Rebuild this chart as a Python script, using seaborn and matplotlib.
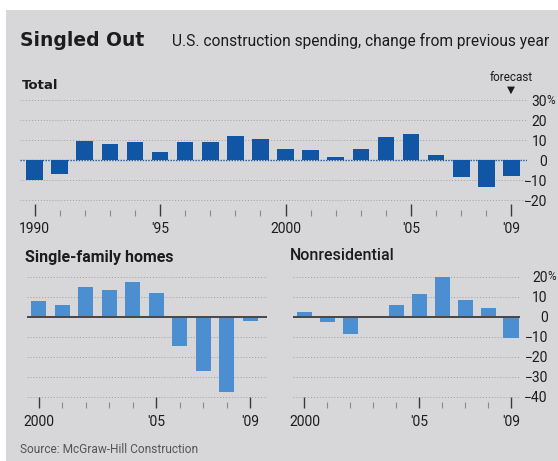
import matplotlib
matplotlib.use("Agg")
import matplotlib.pyplot as plt
from matplotlib.patches import Rectangle
from matplotlib.transforms import blended_transform_factory
import pandas as pd
import seaborn as sns

# ---- data: percent change in U.S. construction spending from previous year ----
years_total = list(range(1990, 2010))
total_change = [-10, -7, 9.5, 8.2, 9.2, 4.0, 9.2, 9.2, 12.2, 10.5,
                5.7, 5.0, 1.3, 5.3, 11.3, 12.8, 2.7, -8.7, -13.7, -8.0]

years_split = list(range(2000, 2010))
single_family = [8.0, 5.8, 15.0, 13.3, 17.3, 11.7, -14.5, -27.0, -37.7, -2.0]
nonresidential = [2.5, -2.5, -8.7, 0.4, 5.8, 11.3, 20.0, 8.3, 4.5, -10.8]

total_yticks = [-20, -10, 0, 10, 20, 30]
split_yticks = [-40, -30, -20, -10, 0, 10, 20]
total_xticks = [1990, 1995, 2000, 2005, 2009]
total_xlabels = ["1990", "'95", "2000", "'05", "'09"]
split_xticks = [2000, 2005, 2009]
split_xlabels = ["2000", "'05", "'09"]

# ---- styling ----
BG = "#d7d7d9"
DARK_BLUE = "#1155a5"
LIGHT_BLUE = "#4b8fd0"
INK = "#1c1c1c"
GRID = "#a0a0a2"
NARROW = ["Roboto", "DejaVu Sans"]
BOLD = ["DejaVu Sans"]

sns.set_theme(style="white")
plt.rcParams["font.family"] = NARROW
plt.rcParams["axes.unicode_minus"] = True

W, H, DPI = 558, 461, 100
fig = plt.figure(figsize=(W / DPI, H / DPI), dpi=DPI, facecolor="white")
fig.patches.append(Rectangle((6 / W, 0), 1, (H - 10) / H, transform=fig.transFigure,
                             facecolor=BG, edgecolor="none", zorder=-10))


def rect(left, top, right, bottom):
    return [left / W, 1 - bottom / H, (right - left) / W, (bottom - top) / H]


def fx(px):
    return px / W


def fy(py):
    return 1 - py / H


def fmt(v):
    return str(v).replace("-", "\u2212")


def style_axes(ax, xticks, xlabels, minor_years, grid_vals, ylim, xlim,
               major_len, minor_len, label_pad):
    for s in ax.spines.values():
        s.set_visible(False)
    ax.set_facecolor("none")
    ax.set_xlim(*xlim)
    ax.set_ylim(*ylim)
    ax.set_xlabel("")
    ax.set_ylabel("")
    for v in grid_vals:
        if v != 0:
            ax.axhline(v, color=GRID, lw=0.7, ls=(0, (1, 2)), zorder=0)
    ax.set_xticks(xticks, labels=xlabels)
    ax.set_xticks(minor_years, minor=True)
    ax.tick_params(axis="x", which="major", direction="in", length=major_len,
                   width=1.0, color="#3a3a3a", pad=label_pad, labelsize=10,
                   labelcolor=INK, bottom=True)
    ax.tick_params(axis="x", which="minor", direction="in", length=minor_len,
                   width=0.8, color="#8a8a8a", bottom=True)


# ---- Total ----
ax_t = fig.add_axes(rect(20, 92, 527, 216))
df_t = pd.DataFrame({"year": years_total, "change": total_change})
sns.barplot(data=df_t, x="year", y="change", native_scale=True, width=0.66,
            color=DARK_BLUE, saturation=1, errorbar=None, ax=ax_t,
            edgecolor="none", zorder=2)
style_axes(ax_t, total_xticks, total_xlabels, years_total, total_yticks,
           ((160 - 216) / 2.0, (160 - 92) / 2.0), (1989.42, 2009.62),
           major_len=9, minor_len=4, label_pad=4)
ax_t.axhline(0, color=DARK_BLUE, lw=1.0, ls=(0, (1, 1)), zorder=3)
ax_t.yaxis.tick_right()
ax_t.set_yticks(total_yticks, labels=[fmt(v) for v in total_yticks])
ax_t.tick_params(axis="y", length=0, pad=14.5, labelsize=10, labelcolor=INK)
for lab in ax_t.get_yticklabels():
    lab.set_horizontalalignment("right")
tr_t = blended_transform_factory(ax_t.transAxes, ax_t.transData)
ax_t.text((546.5 - 20) / 507, 30, "%", transform=tr_t, ha="left", va="center",
          fontsize=8.5, color=INK)
tr_fc = blended_transform_factory(ax_t.transData, ax_t.transAxes)
ax_t.text(2009, 1.12, "forecast", transform=tr_fc, ha="center", va="center",
          fontsize=8.5, color=INK)
ax_t.text(2009, 1.02, "\u25BC", transform=tr_fc, ha="center", va="center",
          fontsize=7.5, color=INK, family=["DejaVu Sans"])

# ---- Single-family homes ----
split_ylim = ((316.7 - 408) / 2.0, (316.7 - 268) / 2.0)
ax_s = fig.add_axes(rect(27, 268, 267, 408))
df_s = pd.DataFrame({"year": years_split, "change": single_family})
sns.barplot(data=df_s, x="year", y="change", native_scale=True, width=0.64,
            color=LIGHT_BLUE, saturation=1, errorbar=None, ax=ax_s,
            edgecolor="none", zorder=2)
style_axes(ax_s, split_xticks, split_xlabels, years_split, split_yticks,
           split_ylim, (1999.51, 2009.72), major_len=8, minor_len=4, label_pad=5)
ax_s.axhline(0, color="#474747", lw=1.4, zorder=3)
ax_s.set_yticks([])

# ---- Nonresidential ----
ax_n = fig.add_axes(rect(293, 268, 520, 408))
df_n = pd.DataFrame({"year": years_split, "change": nonresidential})
sns.barplot(data=df_n, x="year", y="change", native_scale=True, width=0.66,
            color=LIGHT_BLUE, saturation=1, errorbar=None, ax=ax_n,
            edgecolor="none", zorder=2)
style_axes(ax_n, split_xticks, split_xlabels, years_split, split_yticks,
           split_ylim, (1999.50, 2009.39), major_len=8, minor_len=4, label_pad=5)
ax_n.axhline(0, color="#474747", lw=1.4, zorder=3)
ax_n.yaxis.tick_right()
ax_n.set_yticks(split_yticks, labels=[fmt(v) for v in split_yticks])
ax_n.tick_params(axis="y", length=0, pad=20, labelsize=10, labelcolor=INK)
for lab in ax_n.get_yticklabels():
    lab.set_horizontalalignment("right")
tr_n = blended_transform_factory(ax_n.transAxes, ax_n.transData)
ax_n.text((547.5 - 293) / 227, 20, "%", transform=tr_n, ha="left", va="center",
          fontsize=8.5, color=INK)

# ---- titles and notes ----
fig.text(fx(20), fy(46), "Singled Out", fontsize=13.5, fontweight="bold",
         family=BOLD, color=INK, va="baseline")
fig.text(fx(172), fy(46), "U.S. construction spending, change from previous year",
         fontsize=11.2, color=INK, va="baseline")
fig.text(fx(22), fy(89), "Total", fontsize=9.5, fontweight="bold",
         family=BOLD, color=INK, va="baseline")
fig.text(fx(25), fy(262), "Single-family homes", fontsize=11.5, fontweight="bold",
         color=INK, va="baseline")
fig.text(fx(290), fy(260), "Nonresidential", fontsize=11.5, fontweight="medium",
         color=INK, va="baseline")
fig.text(fx(20), fy(453), "Source: McGraw-Hill Construction", fontsize=8.6,
         color="#555555", va="baseline")

fig.savefig("out.png", dpi=DPI, facecolor=fig.get_facecolor())
